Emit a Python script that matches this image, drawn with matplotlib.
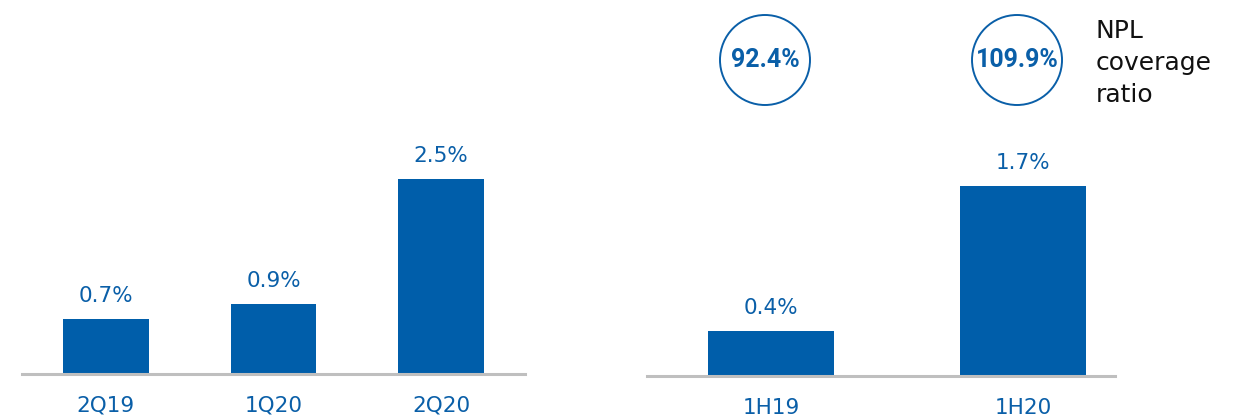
import matplotlib
matplotlib.use("Agg")
import matplotlib.pyplot as plt
from matplotlib.patches import Circle

# ---- data ----
left_categories = ["2Q19", "1Q20", "2Q20"]
left_values = [0.7, 0.9, 2.5]
right_categories = ["1H19", "1H20"]
right_values = [0.4, 1.7]
coverage_labels = ["92.4%", "109.9%"]
coverage_title = ["NPL", "coverage", "ratio"]

BLUE = "#005EAA"
TXT_BLUE = "#0A5FA8"
GREY = "#BFBFBF"

W, H = 1255, 420
fig = plt.figure(figsize=(W / 100, H / 100), dpi=100)

def px_axes(x0, x1, ytop, ybot):
    return fig.add_axes([x0 / W, (H - ybot) / H, (x1 - x0) / W, (ybot - ytop) / H])

def style(ax):
    for s in ("top", "right", "left"):
        ax.spines[s].set_visible(False)
    ax.spines["bottom"].set_color(GREY)
    ax.spines["bottom"].set_linewidth(2.2)
    ax.set_yticks([])
    ax.set_xticks([])
    ax.patch.set_alpha(0)

def draw(ax, cats, vals, width):
    xs = list(range(len(cats)))
    ax.bar(xs, vals, width=width, color=BLUE, zorder=2)
    for x, v, c in zip(xs, vals, cats):
        ax.annotate(f"{v:.1f}%", xy=(x, v), xytext=(0, 17), textcoords="offset pixels",
                    ha="center", va="baseline", fontsize=15.5, color=TXT_BLUE)
        ax.annotate(c, xy=(x, 0), xytext=(0, -38), textcoords="offset pixels",
                    ha="center", va="baseline", fontsize=15.5, color=TXT_BLUE,
                    annotation_clip=False)

# left panel
axL = px_axes(22, 525, 140, 374)
style(axL)
axL.set_xlim(-0.5, 2.5)
axL.set_ylim(0, 234 / 78.0)
draw(axL, left_categories, left_values, 0.51)

# right panel
axR = px_axes(647, 1115, 140, 376)
style(axR)
axR.set_xlim(-0.492, 1.365)
axR.set_ylim(0, 236 / 111.5)
draw(axR, right_categories, right_values, 0.5)

# overlay for circles in pixel coordinates
ov = fig.add_axes([0, 0, 1, 1])
ov.set_xlim(0, W)
ov.set_ylim(H, 0)
ov.axis("off")
ov.patch.set_alpha(0)

for i, lab in enumerate(coverage_labels):
    xd, _ = axR.transData.transform((i, 0))
    cx = xd - 6
    cy = 60
    ov.add_patch(Circle((cx, cy), 45, fill=False, edgecolor=TXT_BLUE, linewidth=1.4))
    ov.text(cx, cy + 7, lab, ha="center", va="baseline", fontsize=18, fontweight="bold",
            color=TXT_BLUE, family="Roboto")

for j, line in enumerate(coverage_title):
    ov.text(1096, 38 + 32 * j, line, ha="left", va="baseline", fontsize=18, color="#111111")

fig.savefig("out.png", dpi=100)
